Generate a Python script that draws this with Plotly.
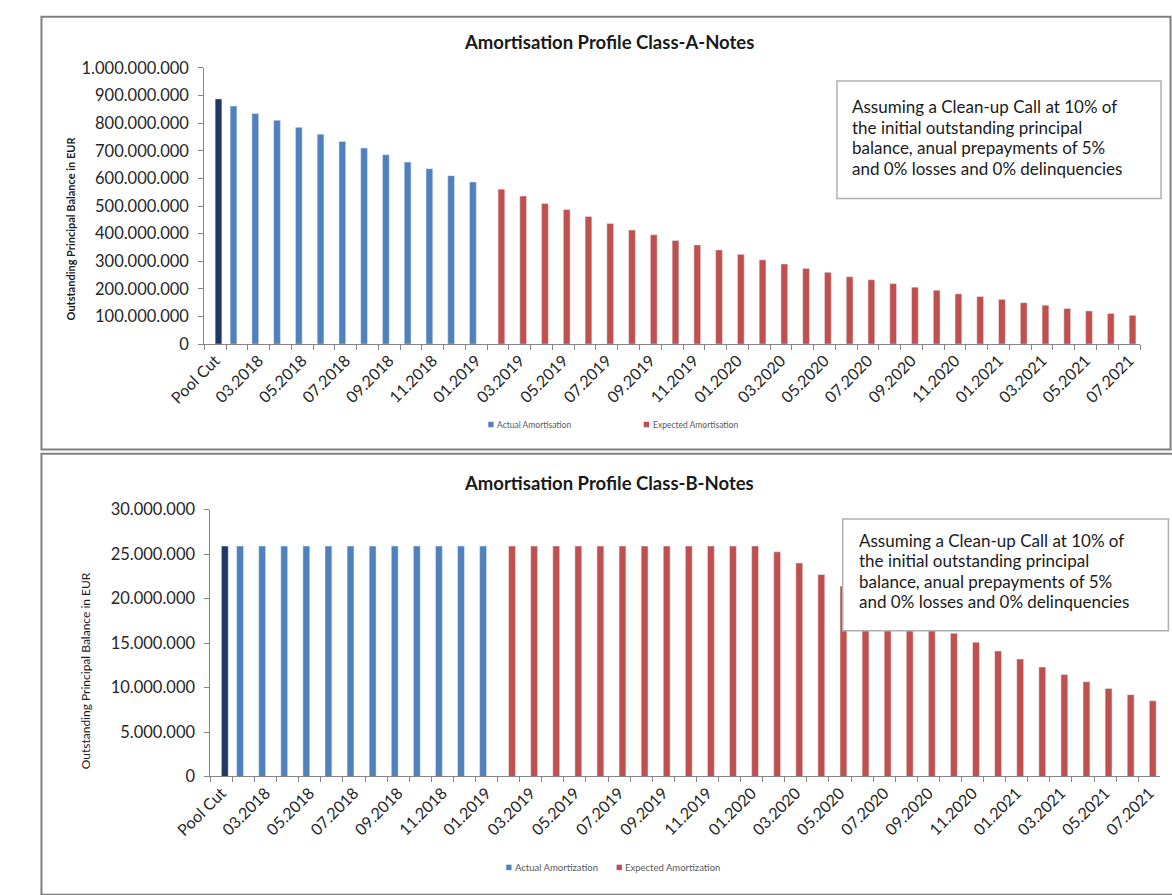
import plotly.graph_objects as go

W, H = 1172, 895

# ---- categories (Pool Cut + monthly reporting dates) ----
categories = [
    "Pool Cut", "02.2018", "03.2018", "04.2018", "05.2018", "06.2018", "07.2018",
    "08.2018", "09.2018", "10.2018", "11.2018", "12.2018", "01.2019", "02.2019",
    "03.2019", "04.2019", "05.2019", "06.2019", "07.2019", "08.2019", "09.2019",
    "10.2019", "11.2019", "12.2019", "01.2020", "02.2020", "03.2020", "04.2020",
    "05.2020", "06.2020", "07.2020", "08.2020", "09.2020", "10.2020", "11.2020",
    "12.2020", "01.2021", "02.2021", "03.2021", "04.2021", "05.2021", "06.2021",
    "07.2021",
]
# every second date is labelled on the category axis
tick_text = [
    "Pool Cut", "", "03.2018", "", "05.2018", "", "07.2018", "", "09.2018", "",
    "11.2018", "", "01.2019", "", "03.2019", "", "05.2019", "", "07.2019", "",
    "09.2019", "", "11.2019", "", "01.2020", "", "03.2020", "", "05.2020", "",
    "07.2020", "", "09.2020", "", "11.2020", "", "01.2021", "", "03.2021", "",
    "05.2021", "", "07.2021",
]
pool_cut_dates = ["Pool Cut"]
actual_dates = [
    "02.2018", "03.2018", "04.2018", "05.2018", "06.2018", "07.2018",
    "08.2018", "09.2018", "10.2018", "11.2018", "12.2018", "01.2019",
]
expected_dates = [
    "02.2019", "03.2019", "04.2019", "05.2019", "06.2019", "07.2019", "08.2019",
    "09.2019", "10.2019", "11.2019", "12.2019", "01.2020", "02.2020", "03.2020",
    "04.2020", "05.2020", "06.2020", "07.2020", "08.2020", "09.2020", "10.2020",
    "11.2020", "12.2020", "01.2021", "02.2021", "03.2021", "04.2021", "05.2021",
    "06.2021", "07.2021",
]

# ---- Class A notes, outstanding principal in EUR ----
class_a_pool_cut = [888_000_000]
class_a_actual = [
    862_000_000, 835_000_000, 811_000_000, 785_000_000, 760_000_000, 734_000_000,
    710_000_000, 686_000_000, 659_000_000, 635_000_000, 610_000_000, 587_000_000,
]
class_a_expected = [
    561_000_000, 536_000_000, 509_000_000, 487_000_000, 462_000_000, 437_000_000,
    413_000_000, 396_000_000, 375_000_000, 359_000_000, 341_000_000, 325_000_000,
    305_000_000, 290_000_000, 274_000_000, 260_000_000, 244_000_000, 233_000_000,
    219_000_000, 206_000_000, 195_000_000, 182_000_000, 172_000_000, 162_000_000,
    150_000_000, 141_000_000, 129_000_000, 120_000_000, 111_000_000, 104_000_000,
]

# ---- Class B notes, outstanding principal in EUR ----
class_b_pool_cut = [25_900_000]
class_b_actual = [
    25_900_000, 25_900_000, 25_900_000, 25_900_000, 25_900_000, 25_900_000,
    25_900_000, 25_900_000, 25_900_000, 25_900_000, 25_900_000, 25_900_000,
]
class_b_expected = [
    25_900_000, 25_900_000, 25_900_000, 25_900_000, 25_900_000, 25_900_000,
    25_900_000, 25_900_000, 25_900_000, 25_900_000, 25_900_000, 25_900_000,
    25_250_000, 24_000_000, 22_700_000, 21_400_000, 20_300_000, 19_200_000,
    18_100_000, 17_100_000, 16_100_000, 15_100_000, 14_100_000, 13_200_000,
    12_300_000, 11_450_000, 10_650_000, 9_900_000, 9_200_000, 8_500_000,
]

note_lines = [
    "Assuming a Clean-up Call at 10% of",
    "the initial outstanding principal",
    "balance, anual prepayments of 5%",
    "and 0% losses and 0% delinquencies",
]

NAVY = "#1F3864"
BLUE = "#4F81BD"
RED = "#C0504D"
AXIS = "#868686"
TEXT = "#262626"
DARK = "#1A1A1A"
FONT = "Lato"
BAR_W = 0.31


def px(x):
    return x / W


def py(y):
    return 1 - y / H


fig = go.Figure()

for xa, ya, pool, act, exp_, act_name, exp_name in [
    ("x", "y", class_a_pool_cut, class_a_actual, class_a_expected,
     "Actual Amortisation", "Expected Amortisation"),
    ("x2", "y2", class_b_pool_cut, class_b_actual, class_b_expected,
     "Actual Amortization", "Expected Amortization"),
]:
    fig.add_trace(go.Bar(x=actual_dates, y=act, marker_color=BLUE, width=BAR_W,
                         offset=-BAR_W, xaxis=xa, yaxis=ya, name=act_name))
    fig.add_trace(go.Bar(x=expected_dates, y=exp_, marker_color=RED, width=BAR_W,
                         offset=0, xaxis=xa, yaxis=ya, name=exp_name))
    fig.add_trace(go.Bar(x=pool_cut_dates, y=pool, marker_color=NAVY, width=BAR_W,
                         offset=0, xaxis=xa, yaxis=ya, name="Pool Cut"))

xcommon = dict(type="category", categoryorder="array", categoryarray=categories,
               tickmode="array", tickvals=categories, ticktext=tick_text,
               tickson="boundaries", ticks="outside", ticklen=5, tickcolor=AXIS,
               showline=True, linecolor=AXIS, linewidth=1, tickangle=-45,
               tickfont=dict(family=FONT, size=16, color=TEXT),
               showgrid=False, zeroline=False, fixedrange=True)
ycommon = dict(ticks="outside", ticklen=5, tickcolor=AXIS, showline=True,
               linecolor=AXIS, linewidth=1, showgrid=False, zeroline=False,
               tickformat=",d", tickfont=dict(family=FONT, size=16.5, color=TEXT),
               ticklabelstandoff=6, fixedrange=True)

fig.update_layout(
    width=W, height=H, margin=dict(l=0, r=0, t=0, b=0),
    paper_bgcolor="white", plot_bgcolor="white",
    barmode="overlay", separators=",.", showlegend=False,
    font=dict(family=FONT, color=TEXT),
    xaxis=dict(domain=[px(172.7), px(1139)], anchor="y", **xcommon),
    yaxis=dict(domain=[py(341.7), py(59.3)], anchor="x", range=[0, 1_000_000_000],
               dtick=100_000_000, **ycommon),
    xaxis2=dict(domain=[px(179), px(1160)], anchor="y2", **xcommon),
    yaxis2=dict(domain=[py(784), py(511)], anchor="x2", range=[0, 30_000_000],
                dtick=5_000_000, **ycommon),
)

shapes = [
    # chart frames
    dict(type="rect", x0=px(4.6), x1=px(1170.5), y0=py(449.5), y1=py(7),
         line=dict(color="#7F7F7F", width=2)),
    dict(type="rect", x0=px(4.6), x1=px(1180), y0=py(905), y1=py(454),
         line=dict(color="#7F7F7F", width=2)),
    # note boxes
    dict(type="rect", x0=px(826), x1=px(1160.7), y0=py(192.7), y1=py(72.7),
         line=dict(color="#B0B0B0", width=1.5), fillcolor="white", layer="above"),
    dict(type="rect", x0=px(832), x1=px(1168.3), y0=py(635), y1=py(520.7),
         line=dict(color="#B0B0B0", width=1.5), fillcolor="white", layer="above"),
]

annotations = [
    dict(text="<b>Amortisation Profile Class-A-Notes</b>", x=px(591), y=py(33),
         font=dict(family=FONT, size=18.5, color=DARK)),
    dict(text="<b>Amortisation Profile Class-B-Notes</b>", x=px(591), y=py(484),
         font=dict(family=FONT, size=18.5, color=DARK)),
    dict(text="<b>Outstanding Principal Balance in EUR</b>", x=px(34.5), y=py(223),
         textangle=-90, font=dict(family=FONT, size=11, color=DARK)),
    dict(text="Outstanding Principal Balance in EUR", x=px(51), y=py(676),
         textangle=-90, font=dict(family=FONT, size=12, color=DARK)),
]

# note text, one line per annotation
for x0, ys in [(840, [99, 120, 141, 162]), (847, [542.5, 563.5, 584.5, 605.5])]:
    for line, yl in zip(note_lines, ys):
        annotations.append(dict(text=line, x=px(x0), y=py(yl), xanchor="left",
                                font=dict(family=FONT, size=17, color=DARK)))

# legend keys: small colour square followed by the series name
legend_items = [
    (466, 424, BLUE, "Actual Amortisation", 8.5),
    (626.5, 424, RED, "Expected Amortisation", 8.5),
    (484.5, 877, BLUE, "Actual Amortization", 9.5),
    (598.5, 877, RED, "Expected Amortization", 9.5),
]
for lx, ly, col, name, fs in legend_items:
    shapes.append(dict(type="rect", x0=px(lx), x1=px(lx + 5.5), y0=py(ly + 2.8),
                       y1=py(ly - 2.8), line=dict(width=0), fillcolor=col))
    annotations.append(dict(text=name, x=px(lx + 7), y=py(ly), xanchor="left",
                            font=dict(family=FONT, size=fs, color="#595959")))

for s in shapes:
    s.update(xref="paper", yref="paper")
for a in annotations:
    a.setdefault("xanchor", "center")
    a.update(xref="paper", yref="paper", yanchor="middle", showarrow=False)

fig.update_layout(shapes=shapes, annotations=annotations)

fig.write_html("out.html")
